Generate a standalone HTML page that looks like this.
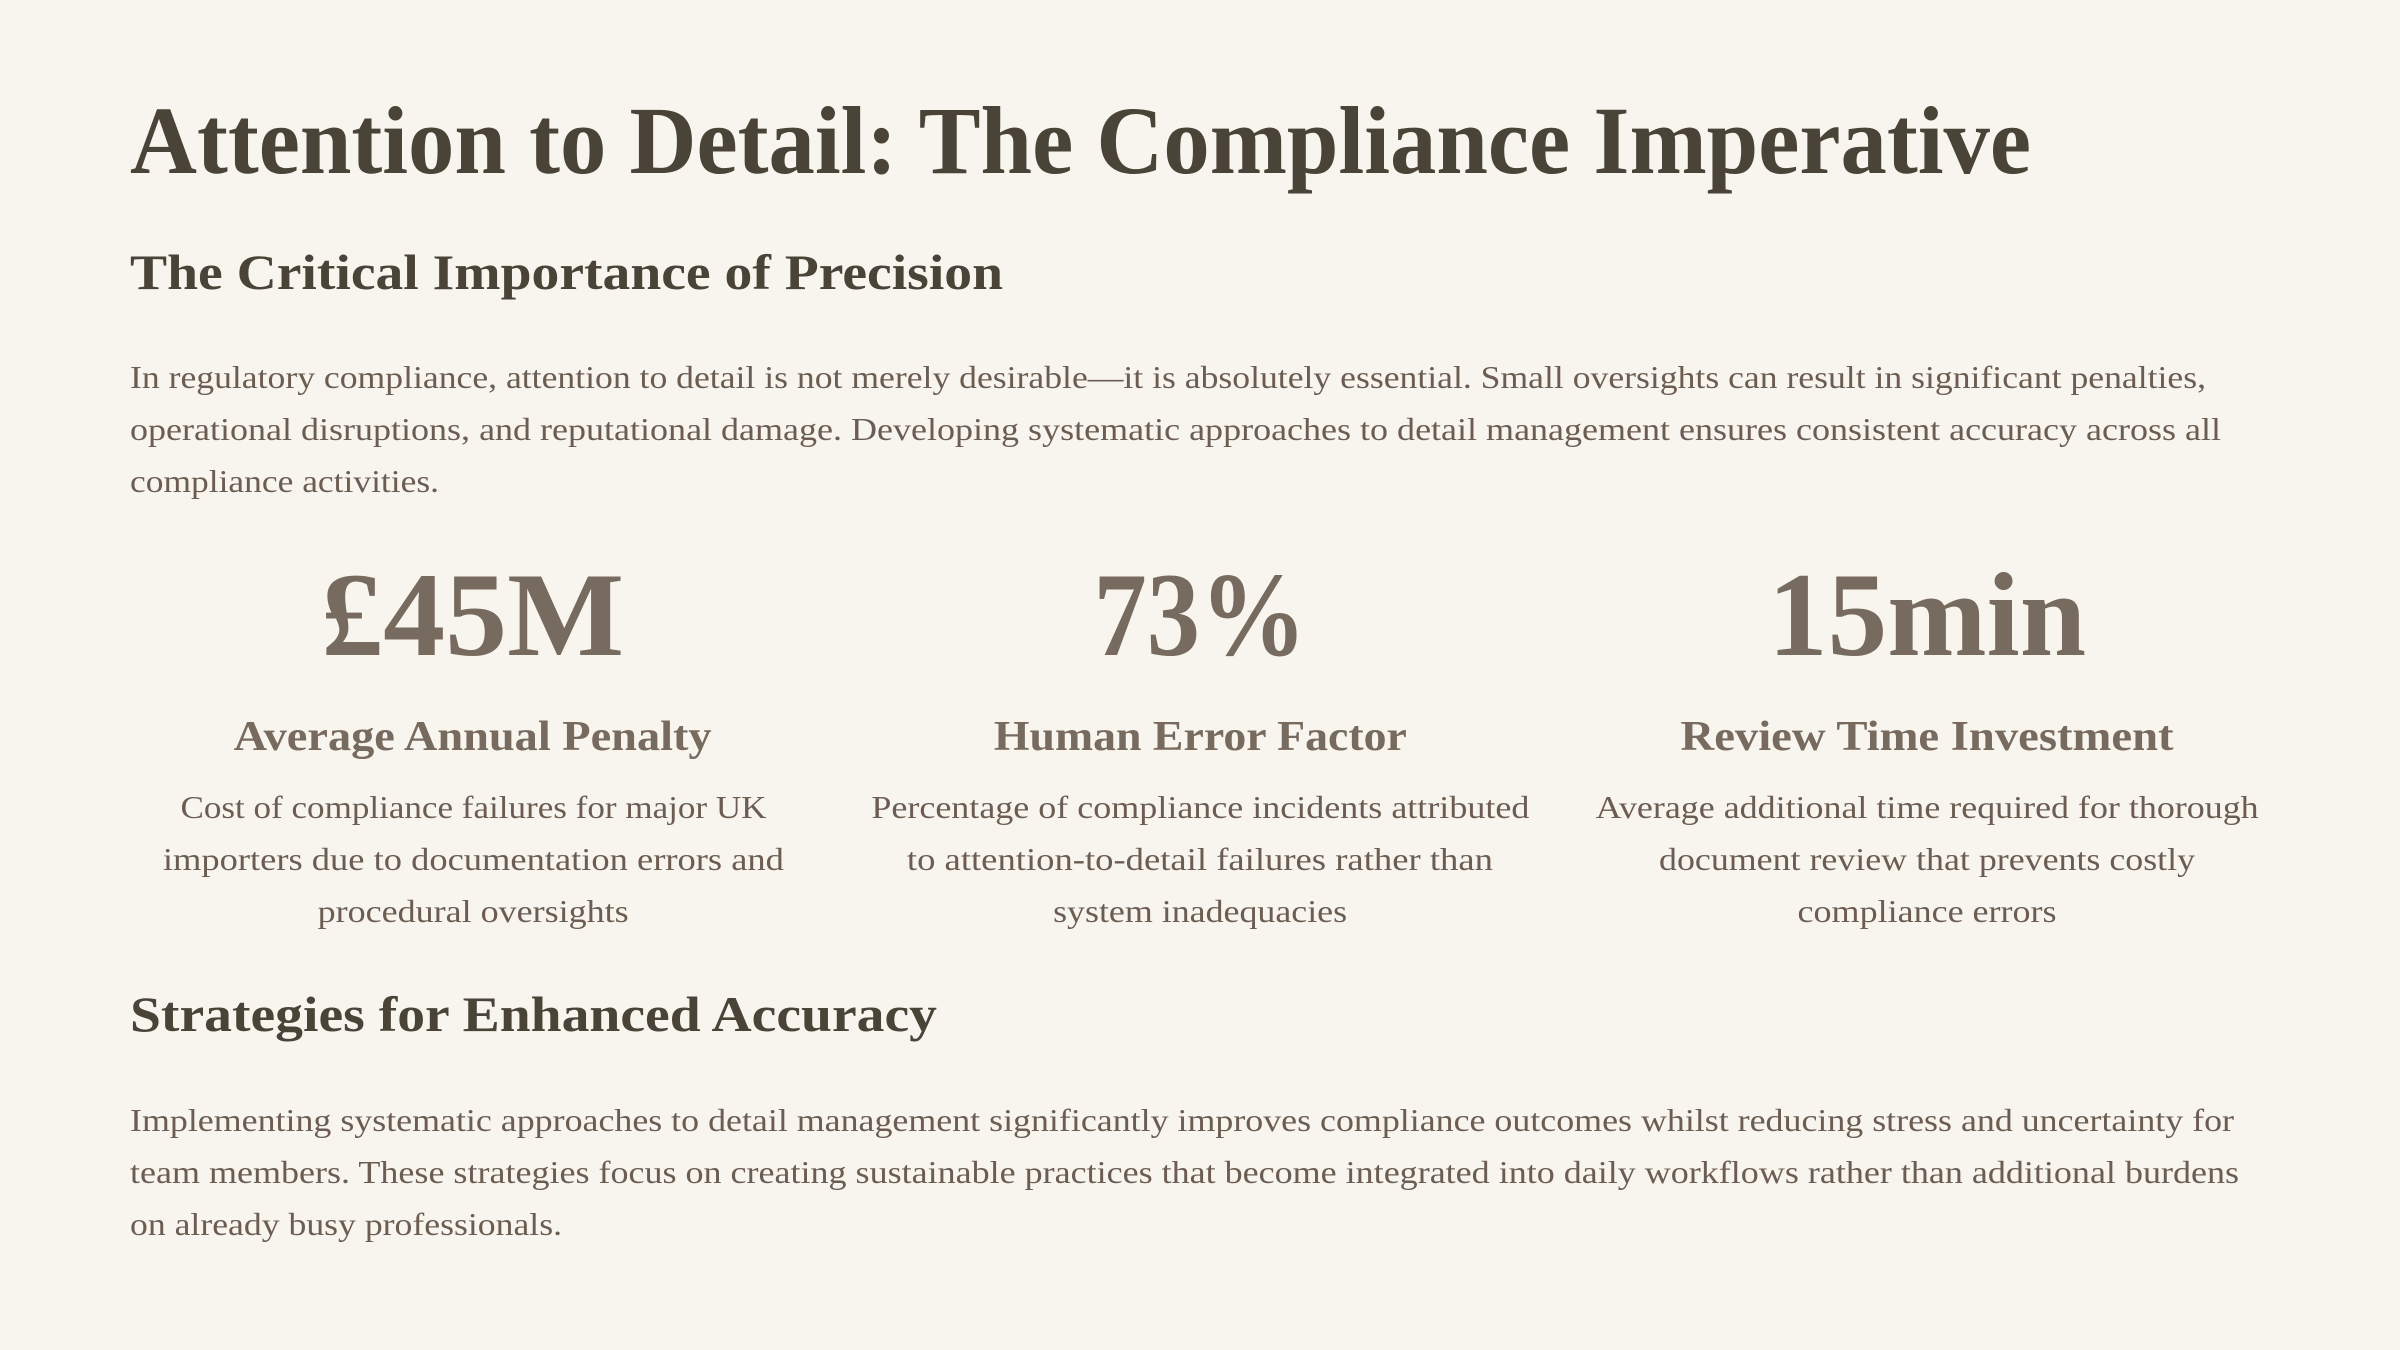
<!DOCTYPE html>
<html><head><meta charset="utf-8"><style>
html,body{margin:0;padding:0}
body{width:2400px;height:1350px;background:#f8f5ee;position:relative;overflow:hidden;font-family:"Liberation Serif",serif}
.a{position:absolute;white-space:nowrap}
.l{display:block}
.l>span{display:inline-block;transform-origin:left center}
.c{text-align:center}
.c .l>span{transform-origin:center center}
.title{left:130px;top:86px;font-size:96px;line-height:110px;font-weight:bold;color:#4a4438}
.h2{left:130px;font-size:50px;line-height:60px;font-weight:bold;color:#4a4438}
.p{left:130px;font-size:32px;line-height:52px;color:#6b5d52}
.num{top:550px;width:686px;font-size:120px;line-height:130px;font-weight:bold;color:#776a5e}
.lab{top:712px;width:686px;font-size:42px;line-height:50px;font-weight:bold;color:#776a5e}
.desc{top:781px;width:686px;font-size:32px;line-height:52px;color:#6b5d52}
</style></head><body>
<div class="a title"><span class="l"><span data-w="1901">Attention to Detail: The Compliance Imperative</span></span></div>
<div class="a h2" style="top:242px"><span class="l"><span data-w="873">The Critical Importance of Precision</span></span></div>
<div class="a p" style="top:351px">
<span class="l"><span data-w="2076">In regulatory compliance, attention to detail is not merely desirable—it is absolutely essential. Small oversights can result in significant penalties,</span></span>
<span class="l"><span data-w="2091">operational disruptions, and reputational damage. Developing systematic approaches to detail management ensures consistent accuracy across all</span></span>
<span class="l"><span data-w="309">compliance activities.</span></span></div>

<div class="a c num" style="left:130px"><span class="l"><span data-w="303">£45M</span></span></div>
<div class="a c num" style="left:857px"><span class="l"><span data-w="213">73%</span></span></div>
<div class="a c num" style="left:1584px"><span class="l"><span data-w="318">15min</span></span></div>

<div class="a c lab" style="left:130px"><span class="l"><span data-w="478">Average Annual Penalty</span></span></div>
<div class="a c lab" style="left:857px"><span class="l"><span data-w="413">Human Error Factor</span></span></div>
<div class="a c lab" style="left:1584px"><span class="l"><span data-w="493">Review Time Investment</span></span></div>

<div class="a c desc" style="left:130px">
<span class="l"><span data-w="586">Cost of compliance failures for major UK</span></span>
<span class="l"><span data-w="621">importers due to documentation errors and</span></span>
<span class="l"><span data-w="311">procedural oversights</span></span></div>
<div class="a c desc" style="left:857px">
<span class="l"><span data-w="658">Percentage of compliance incidents attributed</span></span>
<span class="l"><span data-w="586">to attention-to-detail failures rather than</span></span>
<span class="l"><span data-w="294">system inadequacies</span></span></div>
<div class="a c desc" style="left:1584px">
<span class="l"><span data-w="663">Average additional time required for thorough</span></span>
<span class="l"><span data-w="536">document review that prevents costly</span></span>
<span class="l"><span data-w="259">compliance errors</span></span></div>

<div class="a h2" style="top:984px"><span class="l"><span data-w="807">Strategies for Enhanced Accuracy</span></span></div>
<div class="a p" style="top:1094px">
<span class="l"><span data-w="2104">Implementing systematic approaches to detail management significantly improves compliance outcomes whilst reducing stress and uncertainty for</span></span>
<span class="l"><span data-w="2109">team members. These strategies focus on creating sustainable practices that become integrated into daily workflows rather than additional burdens</span></span>
<span class="l"><span data-w="432">on already busy professionals.</span></span></div>
<script>
document.querySelectorAll('[data-w]').forEach(function(e){
  var w=e.getBoundingClientRect().width;
  var t=parseFloat(e.getAttribute('data-w'));
  if(w>0){e.style.transform='scaleX('+(t/w)+')';}
});
</script>
</body></html>
